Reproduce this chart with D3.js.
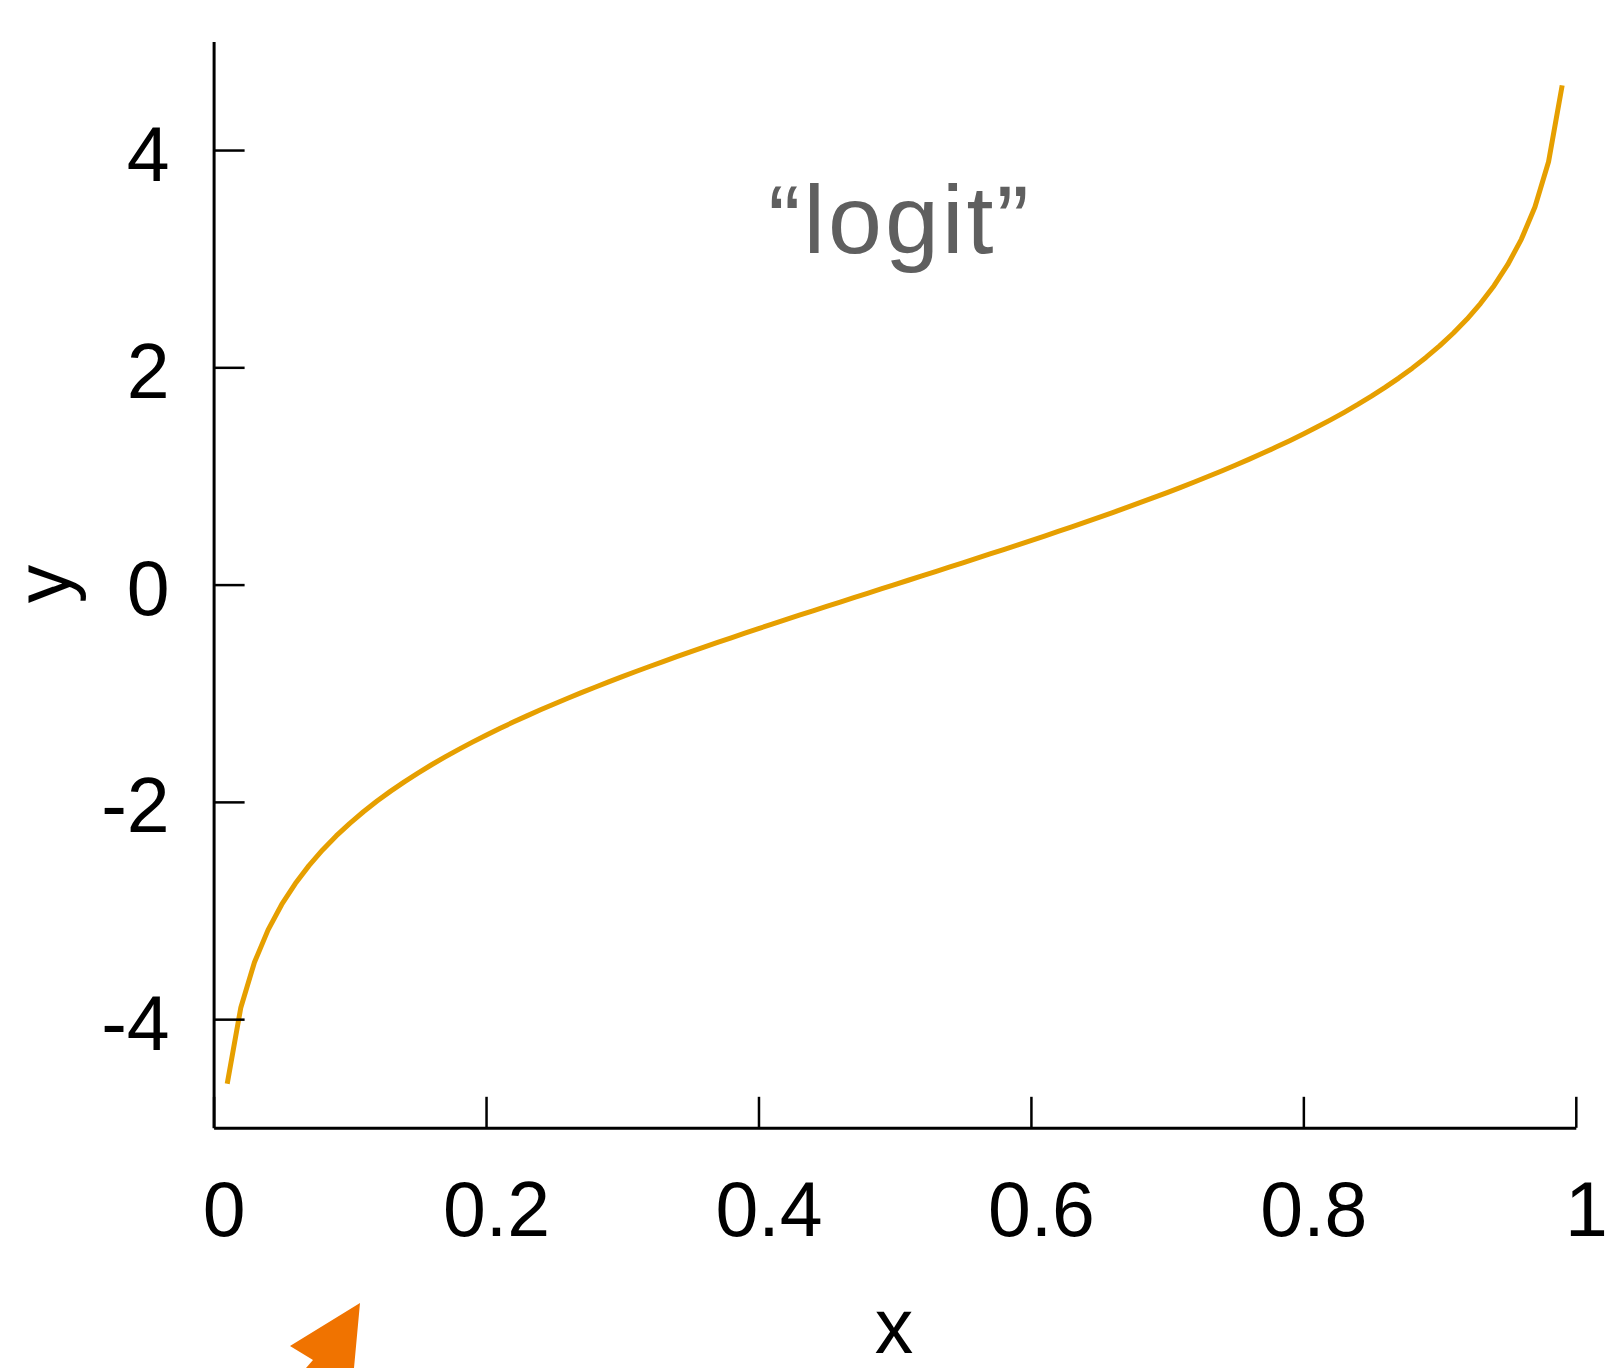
<!DOCTYPE html>
<html>
<head>
<meta charset="utf-8">
<script src="https://cdn.jsdelivr.net/npm/d3@7"></script>
<style>
  html, body { margin: 0; padding: 0; background: #fff; }
  svg { display: block; }
</style>
</head>
<body>
<svg id="chart" width="1615" height="1368"></svg>
<script>
// ---- data ----
const xValues = [
  0.01,0.02,0.03,0.04,0.05,0.06,0.07,0.08,0.09,0.10,
  0.11,0.12,0.13,0.14,0.15,0.16,0.17,0.18,0.19,0.20,
  0.21,0.22,0.23,0.24,0.25,0.26,0.27,0.28,0.29,0.30,
  0.31,0.32,0.33,0.34,0.35,0.36,0.37,0.38,0.39,0.40,
  0.41,0.42,0.43,0.44,0.45,0.46,0.47,0.48,0.49,0.50,
  0.51,0.52,0.53,0.54,0.55,0.56,0.57,0.58,0.59,0.60,
  0.61,0.62,0.63,0.64,0.65,0.66,0.67,0.68,0.69,0.70,
  0.71,0.72,0.73,0.74,0.75,0.76,0.77,0.78,0.79,0.80,
  0.81,0.82,0.83,0.84,0.85,0.86,0.87,0.88,0.89,0.90,
  0.91,0.92,0.93,0.94,0.95,0.96,0.97,0.98,0.99
];
const yValues = [
  -4.5951,-3.8918,-3.4761,-3.1781,-2.9444,-2.7515,-2.5867,-2.4423,-2.3136,-2.1972,
  -2.0907,-1.9924,-1.9010,-1.8153,-1.7346,-1.6582,-1.5856,-1.5163,-1.4500,-1.3863,
  -1.3249,-1.2657,-1.2083,-1.1527,-1.0986,-1.0460,-0.9946,-0.9445,-0.8954,-0.8473,
  -0.8001,-0.7538,-0.7082,-0.6633,-0.6190,-0.5754,-0.5322,-0.4895,-0.4473,-0.4055,
  -0.3640,-0.3228,-0.2819,-0.2412,-0.2007,-0.1603,-0.1201,-0.0800,-0.0400,0.0000,
  0.0400,0.0800,0.1201,0.1603,0.2007,0.2412,0.2819,0.3228,0.3640,0.4055,
  0.4473,0.4895,0.5322,0.5754,0.6190,0.6633,0.7082,0.7538,0.8001,0.8473,
  0.8954,0.9445,0.9946,1.0460,1.0986,1.1527,1.2083,1.2657,1.3249,1.3863,
  1.4500,1.5163,1.5856,1.6582,1.7346,1.8153,1.9010,1.9924,2.0907,2.1972,
  2.3136,2.4423,2.5867,2.7515,2.9444,3.1781,3.4761,3.8918,4.5951
];
const xTicks = [0, 0.2, 0.4, 0.6, 0.8, 1];
const xTickLabels = ["0", "0.2", "0.4", "0.6", "0.8", "1"];
const yTicks = [-4, -2, 0, 2, 4];
const yTickLabels = ["-4", "-2", "0", "2", "4"];
const xDomain = [0, 1];
const yDomain = [-5, 5];
const titleText = "\u201Clogit\u201D";
const xLabel = "x";
const yLabel = "y";
const cursorShape = [[360,1303],[290,1346],[313,1360],[306,1368],[354,1368]];

// ---- drawing ----
(function () {
const svg = d3.select("#chart");
const plotLeft = 213.6, plotRight = 1575.8, plotTop = 41.4, plotBottom = 1127.8;
const x = d3.scaleLinear().domain(xDomain).range([plotLeft, plotRight]);
const y = d3.scaleLinear().domain(yDomain).range([plotBottom, plotTop]);

const tickFont = "'Liberation Sans', Arial, Helvetica, sans-serif";

// line
const pts = xValues.map((v, i) => [v, yValues[i]]);
svg.append("path")
  .datum(pts)
  .attr("fill", "none")
  .attr("stroke", "#E69F00")
  .attr("stroke-width", 5)
  .attr("stroke-linejoin", "round")
  .attr("d", d3.line().x(d => x(d[0])).y(d => y(d[1])));

// y axis
const gy = svg.append("g")
  .attr("transform", `translate(${plotLeft},0)`)
  .call(d3.axisLeft(y)
    .tickValues(yTicks)
    .tickFormat((d, i) => yTickLabels[i])
    .tickSizeInner(-31)
    .tickSizeOuter(0)
    .tickPadding(44));
gy.select(".domain").attr("stroke", "#000").attr("stroke-width", 3);
gy.selectAll(".tick line").attr("stroke", "#000").attr("stroke-width", 2.5);
gy.selectAll(".tick text")
  .attr("font-family", tickFont)
  .attr("font-size", 77)
  .attr("fill", "#000")
  .attr("dy", "0.39em");

// x axis
const gx = svg.append("g")
  .attr("transform", `translate(0,${plotBottom})`)
  .call(d3.axisBottom(x)
    .tickValues(xTicks)
    .tickFormat((d, i) => xTickLabels[i])
    .tickSizeInner(-31)
    .tickSizeOuter(0)
    .tickPadding(54));
gx.select(".domain").attr("stroke", "#000").attr("stroke-width", 3);
gx.selectAll(".tick line").attr("stroke", "#000").attr("stroke-width", 2.5);
gx.selectAll(".tick text")
  .attr("font-family", tickFont)
  .attr("font-size", 77)
  .attr("fill", "#000")
  .attr("dx", 10);

// axis labels
svg.append("text")
  .attr("x", 894).attr("y", 1353)
  .attr("text-anchor", "middle")
  .attr("font-family", tickFont)
  .attr("font-size", 77)
  .attr("fill", "#000")
  .text(xLabel);

svg.append("text")
  .attr("transform", `translate(70,584) rotate(-90)`)
  .attr("text-anchor", "middle")
  .attr("font-family", tickFont)
  .attr("font-size", 77)
  .attr("fill", "#000")
  .text(yLabel);

// title annotation
svg.append("text")
  .attr("x", 900).attr("y", 253)
  .attr("text-anchor", "middle")
  .attr("font-family", "'Liberation Sans', Arial, sans-serif")
  .attr("font-size", 97)
  .attr("letter-spacing", 3)
  .attr("fill", "#5f5f5f")
  .text(titleText);

// orange cursor artifact
svg.append("polygon")
  .attr("points", cursorShape.map(p => p.join(",")).join(" "))
  .attr("fill", "#F07300");
})();
</script>
</body>
</html>
